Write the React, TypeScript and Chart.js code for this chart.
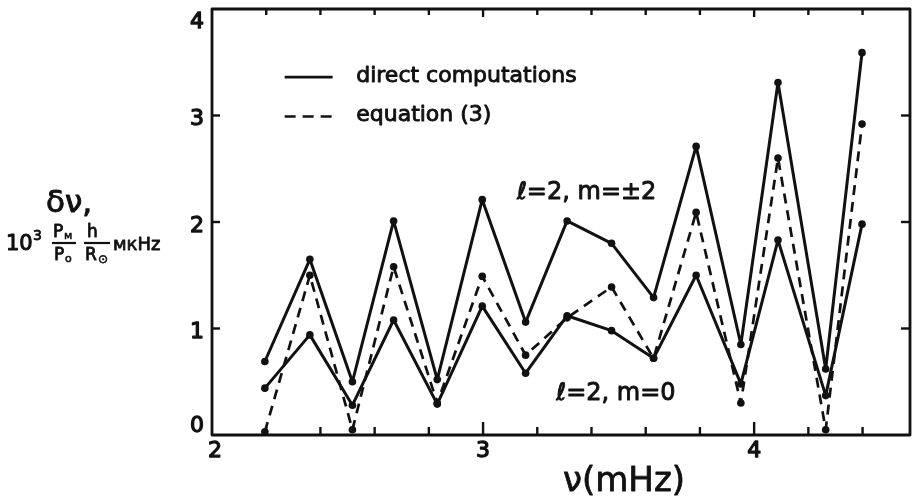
import { useEffect, useRef } from "react";
import { Chart, registerables } from "chart.js";

Chart.register(...registerables);

// ---- data ----
const FREQ = [2.195, 2.361, 2.518, 2.67, 2.831, 2.997, 3.157, 3.31, 3.474, 3.629, 3.786, 3.951, 4.088, 4.264, 4.398];
const DIRECT_M2 = [0.69, 1.65, 0.5, 2.01, 0.52, 2.21, 1.06, 2.01, 1.8, 1.29, 2.71, 0.85, 3.31, 0.62, 3.59];
const DIRECT_M0 = [0.44, 0.94, 0.28, 1.08, 0.29, 1.21, 0.58, 1.12, 0.98, 0.72, 1.5, 0.48, 1.83, 0.37, 1.98];
const EQUATION = [0.03, 1.5, 0.05, 1.58, 0.3, 1.49, 0.75, 1.1, 1.39, 0.72, 2.09, 0.3, 2.6, 0.05, 2.92];

const X_TICKS = [2, 2.2, 2.4, 2.6, 2.8, 3, 3.2, 3.4, 3.6, 3.8, 4, 4.2, 4.4];
const X_LABEL_VALUES = [2, 3, 4];
const X_LABELS = ["2", "3", "4"];
const Y_TICKS = [0, 1, 2, 3, 4];
const Y_LABELS = ["0", "1", "2", "3", "4"];

const LEGEND_LABELS = ["direct computations", "equation (3)"];
const CURVE_LABELS = ["ℓ=2, m=±2", "ℓ=2, m=0"];
const X_TITLE = "ν(mHz)";

const FONT = "'DejaVu Sans', sans-serif";
const INK = "#111";

const isMajor = (v: number) => Math.abs(v - Math.round(v)) < 1e-6;

// text with a slightly heavier stroke, like the pen-drawn original
function heavyText(ctx: CanvasRenderingContext2D, s: string, x: number, y: number, w = 0.9) {
  ctx.fillText(s, x, y);
  ctx.lineWidth = w;
  ctx.strokeText(s, x, y);
}

const overlayPlugin = {
  id: "overlay",
  afterDraw(chart: any) {
    const { ctx, chartArea: a, scales } = chart;
    const xs = scales.x;
    const ys = scales.y;
    ctx.save();
    ctx.strokeStyle = INK;
    ctx.fillStyle = INK;
    ctx.lineCap = "butt";
    ctx.lineJoin = "round";

    // frame
    ctx.lineWidth = 2.8;
    ctx.strokeRect(a.left, a.top, a.right - a.left, a.bottom - a.top);

    // x ticks (inward, bottom and top)
    ctx.lineWidth = 2.4;
    X_TICKS.forEach((v) => {
      const px = xs.getPixelForValue(v);
      const maj = isMajor(v);
      if (v > xs.min + 1e-6) {
        ctx.beginPath();
        ctx.moveTo(px, a.bottom);
        ctx.lineTo(px, a.bottom - (maj ? 13 : 8));
        ctx.stroke();
        ctx.beginPath();
        ctx.moveTo(px, a.top);
        ctx.lineTo(px, a.top + (maj ? 8 : 6));
        ctx.stroke();
      }
    });
    // y ticks (inward, left and right)
    Y_TICKS.forEach((v) => {
      if (v <= ys.min || v >= ys.max) return;
      const py = ys.getPixelForValue(v);
      ctx.beginPath();
      ctx.moveTo(a.left, py);
      ctx.lineTo(a.left + 8, py);
      ctx.stroke();
      ctx.beginPath();
      ctx.moveTo(a.right, py);
      ctx.lineTo(a.right - 9, py);
      ctx.stroke();
    });

    // tick labels
    ctx.font = `22px ${FONT}`;
    ctx.textBaseline = "middle";
    ctx.textAlign = "right";
    Y_TICKS.forEach((v, i) => {
      let py = ys.getPixelForValue(v) + 4;
      py = Math.max(a.top + 13, Math.min(a.bottom - 9, py));
      heavyText(ctx, Y_LABELS[i], a.left - 8, py, 1.3);
    });
    ctx.textAlign = "center";
    X_LABEL_VALUES.forEach((v, i) => {
      const px = xs.getPixelForValue(v) + (v === xs.min ? 3 : 0);
      heavyText(ctx, X_LABELS[i], px, a.bottom + 16, 1.3);
    });

    // x title
    ctx.font = `34px ${FONT}`;
    ctx.textAlign = "center";
    heavyText(ctx, X_TITLE, xs.getPixelForValue(3.52), a.bottom + 47, 0.8);

    // legend
    const lx0 = xs.getPixelForValue(2.268);
    const lx1 = xs.getPixelForValue(2.445);
    const row1 = ys.getPixelForValue(3.36);
    const row2 = ys.getPixelForValue(2.99);
    ctx.lineWidth = 2.6;
    ctx.beginPath();
    ctx.moveTo(lx0, row1);
    ctx.lineTo(lx1, row1);
    ctx.stroke();
    ctx.setLineDash([11, 7]);
    ctx.beginPath();
    ctx.moveTo(lx0, row2);
    ctx.lineTo(lx1, row2);
    ctx.stroke();
    ctx.setLineDash([]);
    ctx.font = `22px ${FONT}`;
    ctx.textAlign = "left";
    ctx.textBaseline = "alphabetic";
    const tx = xs.getPixelForValue(2.532);
    heavyText(ctx, LEGEND_LABELS[0], tx, row1 + 5);
    heavyText(ctx, LEGEND_LABELS[1], tx, row2 + 4);

    // curve labels
    ctx.font = `24px ${FONT}`;
    ctx.textBaseline = "middle";
    heavyText(ctx, CURVE_LABELS[0], xs.getPixelForValue(3.125), ys.getPixelForValue(2.27));
    heavyText(ctx, CURVE_LABELS[1], xs.getPixelForValue(3.27), ys.getPixelForValue(0.39));

    // y-axis title
    ctx.textBaseline = "alphabetic";
    ctx.textAlign = "left";
    ctx.font = `31px ${FONT}`;
    heavyText(ctx, "δν,", 46, 212, 1);
    ctx.font = `21px ${FONT}`;
    heavyText(ctx, "10", 6, 250, 1.1);
    ctx.font = `14px ${FONT}`;
    heavyText(ctx, "3", 33, 240, 0.8);
    // fraction Pм / Po
    ctx.font = `17px ${FONT}`;
    heavyText(ctx, "P", 53, 237, 0.8);
    heavyText(ctx, "P", 54, 260, 0.8);
    ctx.font = `11px ${FONT}`;
    heavyText(ctx, "м", 64, 239, 0.6);
    heavyText(ctx, "o", 65, 262, 0.6);
    ctx.lineWidth = 2.2;
    ctx.beginPath();
    ctx.moveTo(52, 243);
    ctx.lineTo(76, 243);
    ctx.stroke();
    // fraction h / R⊙
    ctx.font = `17px ${FONT}`;
    heavyText(ctx, "h", 87, 237, 0.8);
    heavyText(ctx, "R", 85, 260, 0.8);
    ctx.font = `12px ${FONT}`;
    heavyText(ctx, "⊙", 98, 263, 0.6);
    ctx.lineWidth = 2.2;
    ctx.beginPath();
    ctx.moveTo(84, 243);
    ctx.lineTo(110, 243);
    ctx.stroke();
    ctx.font = `18px ${FONT}`;
    heavyText(ctx, "мкHz", 113, 250, 0.8);

    ctx.restore();
  },
};

export default function App() {
  const ref = useRef<HTMLCanvasElement | null>(null);

  useEffect(() => {
    if (!ref.current) return;
    const mk = (ys: number[]) => FREQ.map((x, i) => ({ x, y: ys[i] }));
    const common = {
      borderColor: INK,
      backgroundColor: INK,
      borderWidth: 3,
      pointRadius: 3.8,
      pointBackgroundColor: INK,
      pointBorderWidth: 0,
      tension: 0,
      fill: false,
      borderJoinStyle: "round" as const,
    };
    const chart = new Chart(ref.current, {
      type: "line",
      data: {
        datasets: [
          { label: "equation (3)", data: mk(EQUATION), borderDash: [10, 7], ...common, borderWidth: 2.7 },
          { label: "direct computations, ℓ=2, m=±2", data: mk(DIRECT_M2), ...common },
          { label: "direct computations, ℓ=2, m=0", data: mk(DIRECT_M0), ...common },
        ],
      },
      options: {
        animation: false,
        responsive: false,
        layout: { padding: { left: 212, right: 3, top: 9, bottom: 68 } },
        plugins: { legend: { display: false }, tooltip: { enabled: false }, title: { display: false } },
        scales: {
          x: { type: "linear", min: 2, max: 4.575, display: false },
          y: { type: "linear", min: 0, max: 4, display: false },
        },
      },
      plugins: [overlayPlugin],
    });
    return () => chart.destroy();
  }, []);

  return (
    <div style={{ position: "absolute", left: 0, top: 0, width: 914, height: 503, background: "#fff" }}>
      <canvas ref={ref} width={914} height={503} style={{ display: "block" }} />
    </div>
  );
}
